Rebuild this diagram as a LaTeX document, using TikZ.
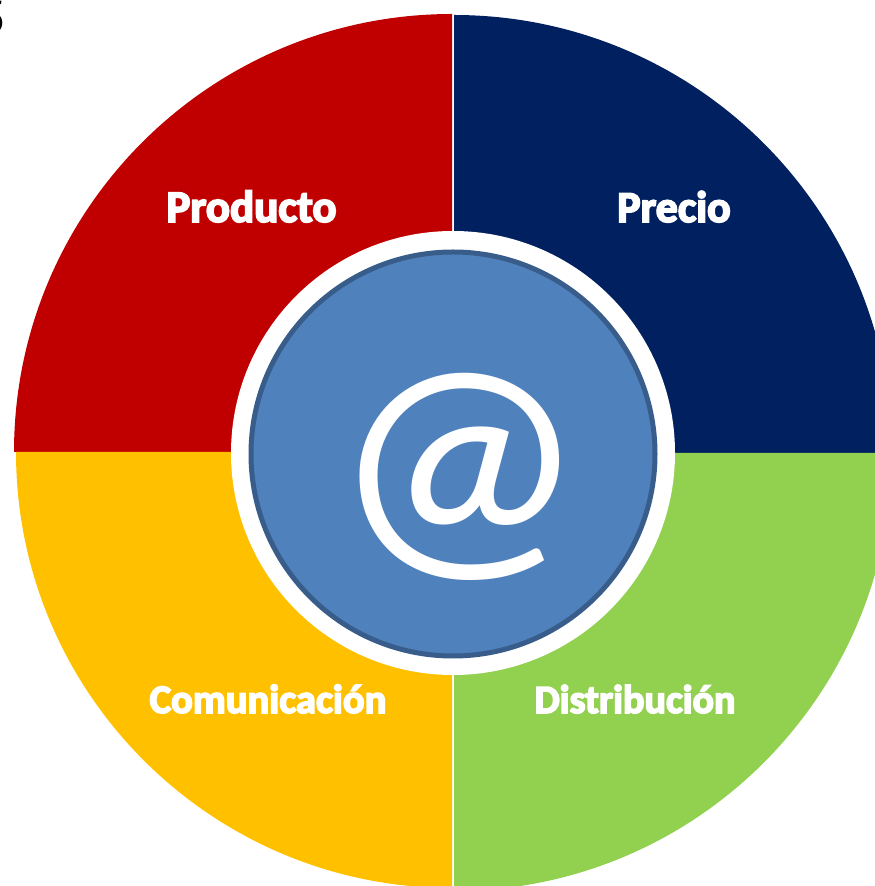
\documentclass[tikz,border=0pt]{standalone}
\usepackage{fontspec}
\usetikzlibrary{calc}
\newfontfamily\labelfont{Carlito}[BoldFeatures={FakeBold=4}]
\definecolor{prodred}{HTML}{C00000}
\definecolor{precnavy}{HTML}{002060}
\definecolor{distgreen}{HTML}{92D050}
\definecolor{comyellow}{HTML}{FFC000}
\definecolor{webblue}{HTML}{4F81BD}
\definecolor{webrim}{HTML}{385D8A}

\begin{document}
\begin{tikzpicture}[x=1pt, y=1pt,
		quadlabel/.style={text=white, anchor=base, inner sep=0pt, font=\labelfont\bfseries\fontsize{#1}{#1}\selectfont}]
		\useasboundingbox (0,0) rectangle (875,886);
		\clip (0,0) rectangle (875,886);
		\coordinate (cred)    at (452,  434);
		\coordinate (cnavy)   at (454,  433);
		\coordinate (cyellow) at (452,  434);
		\coordinate (cgreen)  at (454,  433);
		\coordinate (centre)  at (453,  433);
		\coordinate (prod)    at (251.5, 664);
		\coordinate (prec)    at (674,  664);
		\coordinate (comu)    at (268,  173);
		\coordinate (dist)    at (635,  173);

		% four quadrants
		\fill[prodred]   (cred)    -- ++(-438, 0) arc[start angle=180, end angle=90,  radius=438pt] -- cycle;
		\fill[precnavy]  (cnavy)   -- ++(0, 438)  arc[start angle=90,  end angle=0,   radius=438pt] -- cycle;
		\fill[distgreen] (cgreen)  -- ++(438, 0)  arc[start angle=0,   end angle=-90, radius=438pt] -- cycle;
		\fill[comyellow] (cyellow) -- ++(0, -436) arc[start angle=270, end angle=180, radius=436pt] -- cycle;

		% centre
		\node[circle, fill=white, minimum size=444pt, inner sep=0pt] (RING) at (centre) {};
		\node[circle, fill=webblue, draw=webrim, line width=5pt, minimum size=404pt, inner sep=0pt] (WEB) at ($(centre)+(0,-1)$) {};
		\node[text=white, inner sep=0pt, xscale=1.04, font=\labelfont\fontsize{275}{275}\selectfont] (AT) at ($(WEB.center)+(6,-23)$) {@};

		\node[quadlabel=45] (PRO) at (prod) {Producto};
		\node[quadlabel=44] (PRE) at (prec) {Precio};
		\node[quadlabel=40.5] (COM) at (comu) {Comunicación};
		\node[quadlabel=40] (DIS) at (dist) {Distribución};

		\node[anchor=base east, inner sep=0pt, font=\labelfont\fontsize{52}{52}\selectfont] (FIG) at (6, 851) {5};
	\end{tikzpicture}
\end{document}
